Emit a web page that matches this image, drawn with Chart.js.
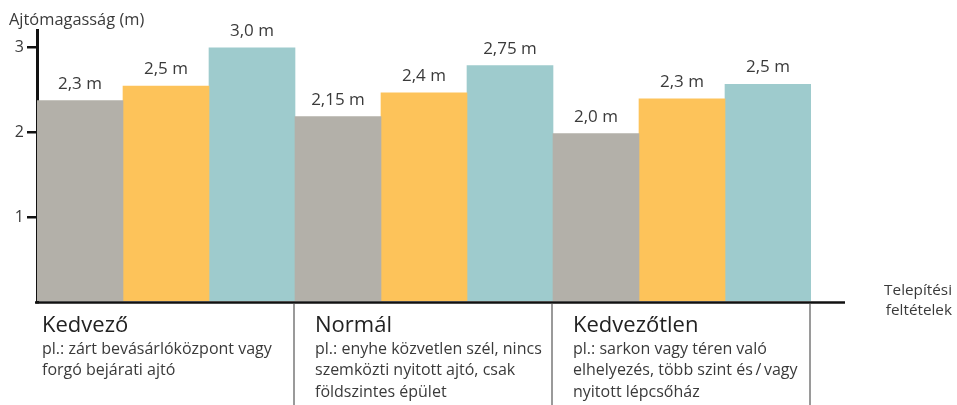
<!DOCTYPE html>
<html>
<head>
<meta charset="utf-8">
<script src="https://cdn.jsdelivr.net/npm/chart.js@4"></script>
<style>
    html, body { margin: 0; padding: 0; background: #fff; }
    #wrap { width: 957px; height: 405px; position: relative; }
</style>
</head>
<body>
<div id="wrap"><canvas id="chart"></canvas></div>
<script>
// Data
const categories = ['Kedvező', 'Normál', 'Kedvezőtlen'];
const descriptions = [
    ['pl.: zárt bevásárlóközpont vagy', 'forgó bejárati ajtó'],
    ['pl.: enyhe közvetlen szél, nincs', 'szemközti nyitott ajtó, csak', 'földszintes épület'],
    ['pl.: sarkon vagy téren való', 'elhelyezés, több szint és\u2009/\u2009vagy', 'nyitott lépcsőház']
];
// bar heights as drawn (m)
const grayValues = [2.37, 2.18, 1.98];
const orangeValues = [2.54, 2.46, 2.39];
const tealValues = [2.99, 2.78, 2.56];
// printed value labels
const grayLabels = ['2,3 m', '2,15 m', '2,0 m'];
const orangeLabels = ['2,5 m', '2,4 m', '2,3 m'];
const tealLabels = ['3,0 m', '2,75 m', '2,5 m'];
const yTitle = 'Ajtómagasság (m)';
const xTitle = ['Telepítési', 'feltételek'];

const FONT = '"Open Sans", "Noto Sans", sans-serif';
const TEXT = '#3a3a3a';

// Custom drawing: value labels, x axis line, separators, category texts
const decorPlugin = {
    id: 'decor',
    afterDatasetsDraw(chart) {
        const ctx = chart.ctx;
        const area = chart.chartArea;
        const labelSets = [grayLabels, orangeLabels, tealLabels];

        ctx.save();
        // value labels above bars
        ctx.fillStyle = TEXT;
        ctx.font = '17px ' + FONT;
        ctx.textAlign = 'center';
        ctx.textBaseline = 'alphabetic';
        chart.data.datasets.forEach((ds, i) => {
            chart.getDatasetMeta(i).data.forEach((bar, j) => {
                ctx.fillText(labelSets[i][j], bar.x, bar.y - 12);
            });
        });

        // x axis line
        ctx.strokeStyle = '#111';
        ctx.lineWidth = 2.5;
        ctx.beginPath();
        ctx.moveTo(area.left - 2, area.bottom + 0.5);
        ctx.lineTo(845, area.bottom + 0.5);
        ctx.stroke();

        // group separators and category texts
        const x = chart.scales.x;
        const step = (area.right - area.left) / categories.length;
        ctx.strokeStyle = '#9a9a9a';
        ctx.lineWidth = 2;
        for (let i = 0; i < categories.length; i++) {
            const left = x.getPixelForValue(i) - step / 2;
            const right = left + step;
            ctx.beginPath();
            ctx.moveTo(right - 1, area.bottom + 2);
            ctx.lineTo(right - 1, 405);
            ctx.stroke();

            const tx = left + (i === 0 ? 5 : 20);
            ctx.textAlign = 'left';
            ctx.fillStyle = '#222';
            ctx.font = '22px ' + FONT;
            ctx.fillText(categories[i], tx, area.bottom + 30);
            ctx.fillStyle = TEXT;
            ctx.font = '16px ' + FONT;
            descriptions[i].forEach((line, k) => {
                ctx.fillText(line, tx, area.bottom + 52 + k * 21.3);
            });
        }

        // axis titles
        ctx.fillStyle = TEXT;
        ctx.font = '16.4px ' + FONT;
        ctx.textAlign = 'left';
        ctx.fillText(yTitle, 9, 25);
        ctx.font = '15.3px ' + FONT;
        ctx.textAlign = 'right';
        ctx.fillText(xTitle[0], 952, 295);
        ctx.fillText(xTitle[1], 952, 315);
        ctx.restore();
    }
};

const ctx = document.getElementById('chart').getContext('2d');
new Chart(ctx, {
    type: 'bar',
    data: {
        labels: categories,
        datasets: [
            { data: grayValues, backgroundColor: '#b3b0a9' },
            { data: orangeValues, backgroundColor: '#fdc35a' },
            { data: tealValues, backgroundColor: '#9ecbcd' }
        ]
    },
    options: {
        responsive: true,
        maintainAspectRatio: false,
        animation: false,
        categoryPercentage: 1,
        barPercentage: 1,
        layout: { padding: { left: 0, right: 146, top: 30, bottom: 103 } },
        plugins: {
            legend: { display: false },
            tooltip: { enabled: false }
        },
        scales: {
            x: { display: false },
            y: {
                min: 0,
                max: 3.2,
                afterFit(scale) { scale.width = 37; },
                border: { display: true, color: '#111', width: 3 },
                grid: {
                    drawOnChartArea: false,
                    drawTicks: true,
                    tickLength: 10,
                    lineWidth: 2.5,
                    color: (c) => (c.tick && c.tick.value === 0 ? 'rgba(0,0,0,0)' : '#111')
                },
                ticks: {
                    stepSize: 1,
                    includeBounds: false,
                    padding: 3,
                    color: TEXT,
                    font: { family: FONT, size: 16 },
                    callback: (v) => (v === 0 ? '' : v)
                }
            }
        }
    },
    plugins: [decorPlugin]
});
</script>
</body>
</html>
